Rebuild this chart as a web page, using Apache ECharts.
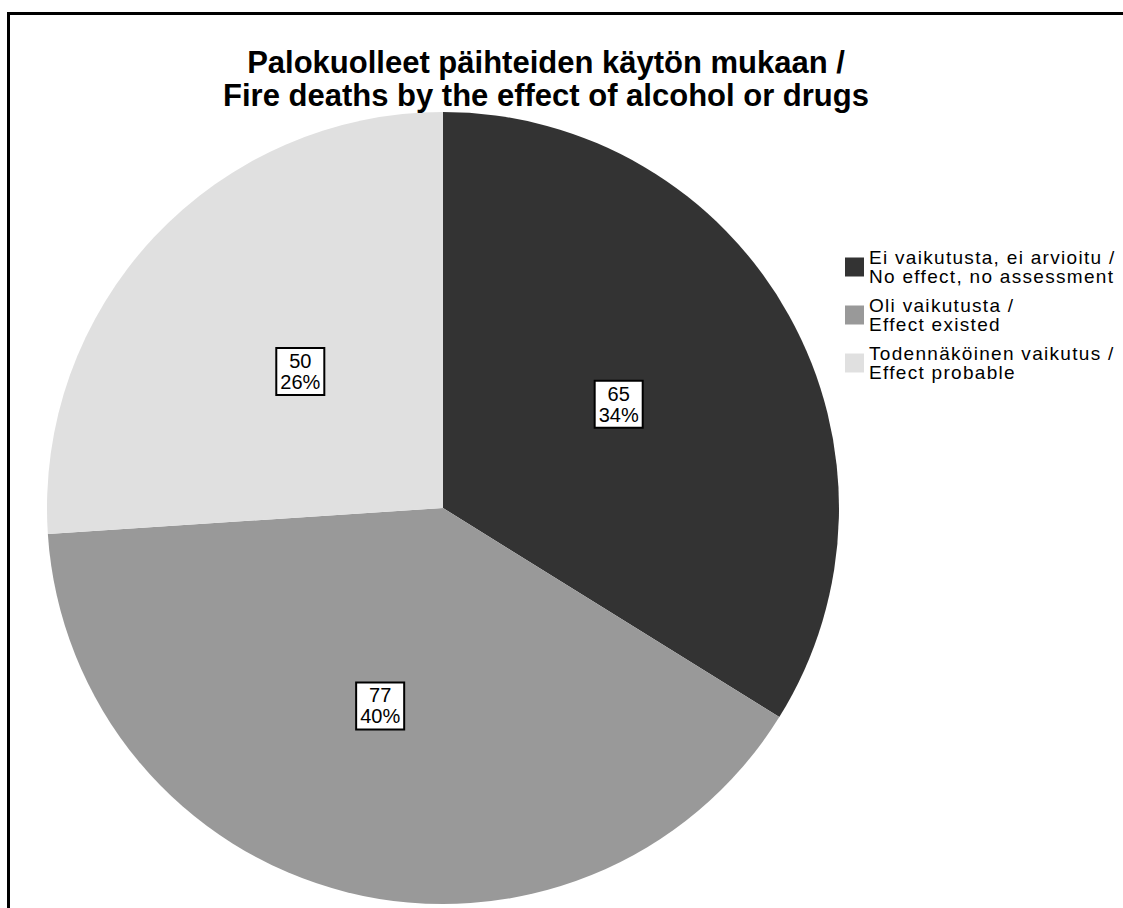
<!DOCTYPE html>
<html>
<head>
<meta charset="utf-8">
<script src="https://cdn.jsdelivr.net/npm/echarts@6/dist/echarts.min.js"></script>
<style>
html,body{margin:0;padding:0;background:#fff;}
#chart{width:1123px;height:908px;}
#chart text[style*="19px"]{letter-spacing:1.3px;}
</style>
</head>
<body>
<div id="chart"></div>
<script>
const titleLines = ['Palokuolleet päihteiden käytön mukaan /', 'Fire deaths by the effect of alcohol or drugs'];
const categories = ['Ei vaikutusta, ei arvioitu /\nNo effect, no assessment', 'Oli vaikutusta /\nEffect existed', 'Todennäköinen vaikutus /\nEffect probable'];
const values = [65, 77, 50];
const colors = ['#333333', '#999999', '#e0e0e0'];

const chart = echarts.init(document.getElementById('chart'), null, {renderer: 'svg'});
const FONT = '"Liberation Sans", Arial, sans-serif';
const labelNudge = [[0, -6], [-14, 3], [4, 1]];
chart.setOption({
  animation: false,
  backgroundColor: '#ffffff',
  title: {
    text: titleLines.join('\n'),
    left: 541,
    textAlign: 'center',
    top: 41,
    textStyle: {fontFamily: FONT, fontWeight: 'bold', fontSize: 31, lineHeight: 33, color: '#000'}
  },
  legend: {
    orient: 'vertical',
    left: 840,
    top: 243,
    icon: 'rect',
    itemWidth: 19,
    itemHeight: 19,
    itemGap: 10,
    data: categories,
    textStyle: {fontFamily: FONT, fontSize: 19, lineHeight: 19, color: '#000'}
  },
  graphic: [{
    type: 'rect',
    shape: {x: 8.5, y: 13.5, width: 1300, height: 1000},
    style: {fill: 'none', stroke: '#000', lineWidth: 3},
    silent: true
  }],
  series: [{
    type: 'pie',
    center: [443, 508],
    radius: [0, 396],
    startAngle: 90,
    clockwise: true,
    avoidLabelOverlap: false,
    color: colors,
    itemStyle: {borderWidth: 0},
    label: {
      show: true,
      position: 'inside',
      formatter: p => p.value + '\n' + Math.round(p.percent) + '%',
      fontFamily: FONT,
      fontSize: 20,
      lineHeight: 21,
      color: '#000',
      align: 'center',
      backgroundColor: '#fff',
      borderColor: '#000',
      borderWidth: 2,
      padding: [2, 3, 1, 3]
    },
    labelLine: {show: false},
    emphasis: {disabled: true},
    data: categories.map((c, i) => ({name: c, value: values[i], label: {offset: labelNudge[i]}}))
  }]
});
</script>
</body>
</html>
